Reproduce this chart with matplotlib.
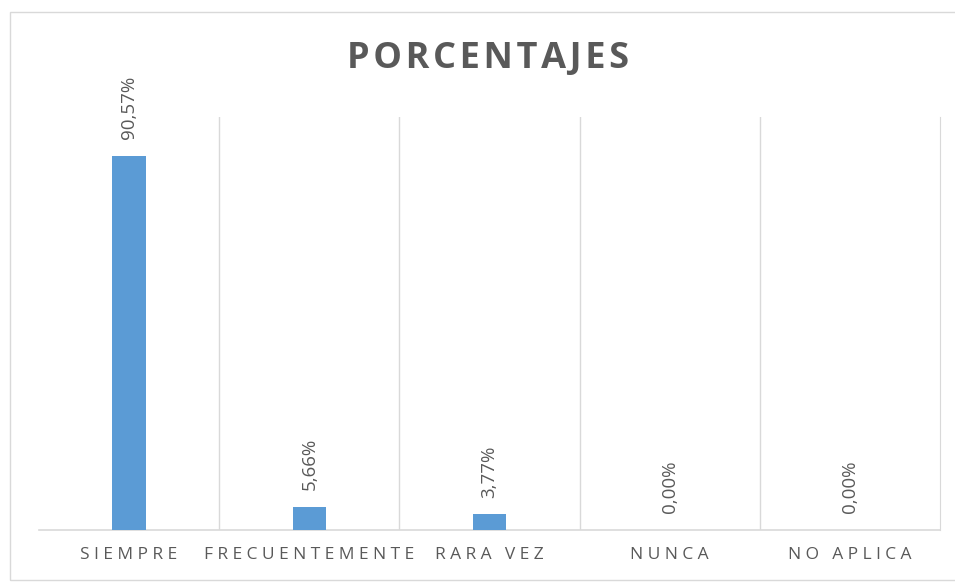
import matplotlib.pyplot as plt
import numpy as np
from matplotlib.patches import Rectangle

categorias = ['SIEMPRE', 'FRECUENTEMENTE', 'RARA VEZ', 'NUNCA', 'NO APLICA']
porcentajes = [90.57, 5.66, 3.77, 0.00, 0.00]
etiquetas = ['90,57%', '5,66%', '3,77%', '0,00%', '0,00%']

gris = '#595959'
gris_claro = '#D9D9D9'
azul = '#5B9BD5'

plt.rcParams['font.family'] = ['Open Sans', 'DejaVu Sans']


def espaciar(texto, sep='\u2009'):
    # separa letras con espacio fino (como el espaciado de Excel)
    return sep.join(texto)


fig = plt.figure(figsize=(9.55, 5.82), dpi=100)
fig.patches.append(Rectangle((10 / 955, 2 / 582), 950 / 955, 568 / 582, transform=fig.transFigure,
                             fill=False, edgecolor=gris_claro, linewidth=1))
ax = fig.add_axes([39 / 955, 52 / 582, 901 / 955, 413 / 582])

x = np.arange(len(categorias))
barras = ax.bar(x, porcentajes, width=0.185, color=azul, zorder=3)

for xi, v, et in zip(x, porcentajes, etiquetas):
    ax.annotate(et, (xi, v), xytext=(0, 12), textcoords='offset points',
                rotation=90, ha='center', va='bottom', fontsize=13.5, color=gris)

ax.set_xlim(-0.5, len(categorias) - 0.5)
ax.set_ylim(0, 100)
ax.set_yticks([])
ax.set_xticks(x)
ax.set_xticklabels([espaciar(c, '\u2005') for c in categorias], fontsize=12.5, color=gris)
ax.tick_params(axis='x', length=0, pad=12)

for b in np.arange(0.5, len(categorias) - 0.5, 1):
    ax.axvline(b, color=gris_claro, linewidth=1, zorder=1)

for s in ['top', 'left']:
    ax.spines[s].set_visible(False)
ax.spines['right'].set_color(gris_claro)
ax.spines['bottom'].set_color(gris_claro)
ax.spines['bottom'].set_linewidth(1.2)

fig.text(488 / 955, 1 - 59 / 582, espaciar('PORCENTAJES', '\u200a'), ha='center', va='center',
         fontsize=26, fontweight='bold', color=gris)

fig.savefig('out.png', dpi=100)
